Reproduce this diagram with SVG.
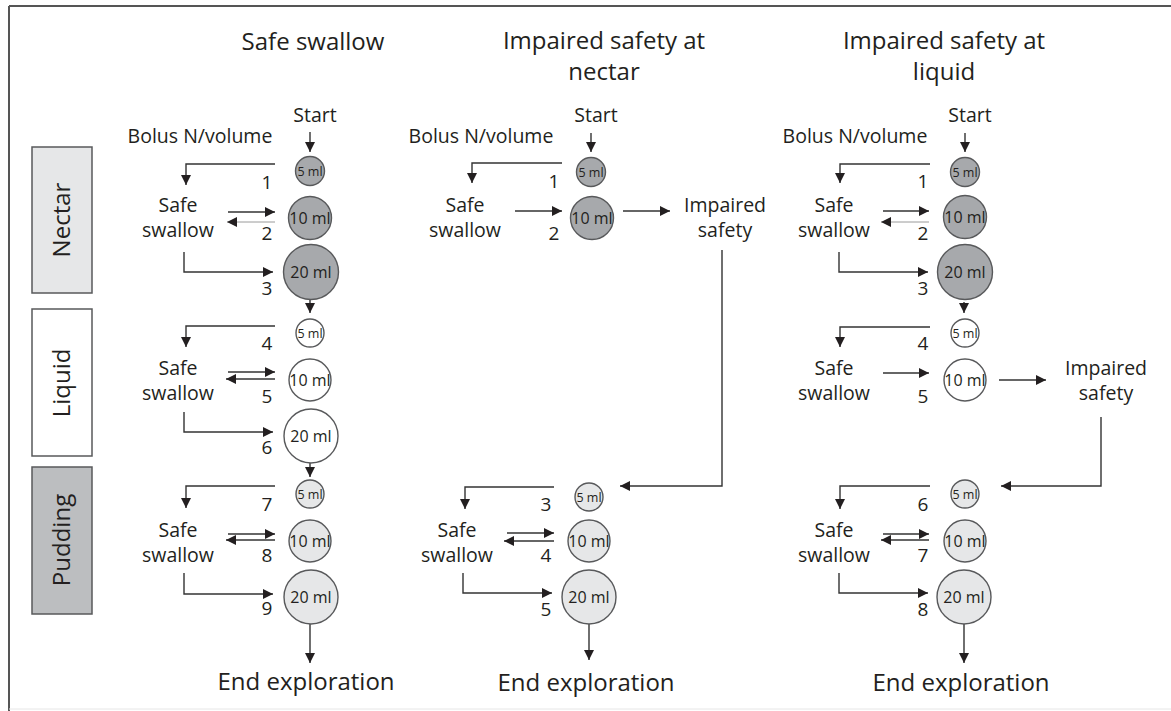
<svg xmlns="http://www.w3.org/2000/svg" width="1171" height="711" viewBox="0 0 1171 711">
<style>
text{font-family:"Open Sans","Noto Sans","Liberation Sans",sans-serif;fill:#231f20}
.t{font-size:24px;text-anchor:middle}
.m{font-size:19.5px;text-anchor:middle}
.n{font-size:19px;text-anchor:middle}
.c{font-size:16px;text-anchor:middle}
.s{font-size:12.5px;text-anchor:middle}
.side{font-size:24px;text-anchor:middle}
.cn{fill:#a7a9ac;stroke:#58595b;stroke-width:1.4}
.cl{fill:#ffffff;stroke:#58595b;stroke-width:1.4}
.cp{fill:#e6e7e8;stroke:#58595b;stroke-width:1.4}
.ln{fill:none;stroke:#333;stroke-width:1.4;marker-end:url(#ah)}
.lt{fill:none;stroke:#9a9a9a;stroke-width:1;marker-end:url(#ah)}
</style>
<defs>
<marker id="ah" viewBox="0 0 10 10" refX="10" refY="5" markerWidth="11" markerHeight="10" markerUnits="userSpaceOnUse" orient="auto">
<path d="M0,0 L10,5 L0,10 z" fill="#231f20"/>
</marker>
</defs>
<rect width="1171" height="711" fill="#ffffff"/>
<g id="frame">
<line x1="9" y1="6" x2="1171" y2="6" stroke="#555" stroke-width="2"/>
<line x1="9" y1="6" x2="9" y2="711" stroke="#555" stroke-width="2"/>
<line x1="9" y1="709" x2="1171" y2="709" stroke="#e6e6e6" stroke-width="1"/>
</g>
<g id="side-nectar"><rect x="32" y="147" width="60" height="146" fill="#e6e7e8" stroke="#58595b" stroke-width="1.5"/><text class="side" transform="translate(70,220) rotate(-90)">Nectar</text></g>
<g id="side-liquid"><rect x="32" y="309" width="60" height="147" fill="#ffffff" stroke="#58595b" stroke-width="1.5"/><text class="side" transform="translate(70,383) rotate(-90)">Liquid</text></g>
<g id="side-pudding"><rect x="32" y="467" width="60" height="147" fill="#bcbec0" stroke="#58595b" stroke-width="1.5"/><text class="side" transform="translate(70,540) rotate(-90)">Pudding</text></g>

<g id="connectors">
<line class="ln" x1="310" y1="132" x2="310" y2="152"/>
<polyline class="ln" points="275,164 186,164 186,185"/>
<line class="ln" x1="228" y1="212" x2="275" y2="212"/>
<line class="lt" x1="275" y1="222" x2="227" y2="222"/>
<polyline class="ln" points="184,252 184,272 273,272"/>
<line class="ln" x1="310" y1="300" x2="310" y2="313"/>
<polyline class="ln" points="275,326 186,326 186,347"/>
<line class="ln" x1="228" y1="372" x2="275" y2="372"/>
<line class="ln" x1="275" y1="379" x2="226" y2="379"/>
<polyline class="ln" points="184,412 184,432 273,432"/>
<line class="ln" x1="310" y1="463" x2="310" y2="477"/>
<polyline class="ln" points="275,486 186,486 186,508"/>
<line class="ln" x1="228" y1="534" x2="275" y2="534"/>
<line class="ln" x1="275" y1="540" x2="226" y2="540"/>
<polyline class="ln" points="184,573 184,594 273,594"/>
<line class="ln" x1="310" y1="624" x2="310" y2="663"/>
<line class="ln" x1="591" y1="133" x2="591" y2="152"/>
<polyline class="ln" points="562,163 472,163 472,183"/>
<line class="ln" x1="515" y1="211" x2="562" y2="211"/>
<line class="ln" x1="623" y1="211" x2="670" y2="211"/>
<polyline class="ln" points="722,250 722,486 620,486"/>
<polyline class="ln" points="554,487 465,487 465,509"/>
<line class="ln" x1="507" y1="533" x2="554" y2="533"/>
<line class="ln" x1="554" y1="541" x2="504" y2="541"/>
<polyline class="ln" points="463,573 463,593 552,593"/>
<line class="ln" x1="589" y1="624" x2="589" y2="660"/>
<line class="ln" x1="965" y1="133" x2="965" y2="152"/>
<polyline class="ln" points="930,164 840,164 840,183"/>
<line class="ln" x1="883" y1="211" x2="929" y2="211"/>
<line class="lt" x1="929" y1="222" x2="881" y2="222"/>
<polyline class="ln" points="839,252 839,272 928,272"/>
<line class="ln" x1="964" y1="302" x2="964" y2="313"/>
<polyline class="ln" points="930,327 840,327 840,347"/>
<line class="ln" x1="883" y1="373" x2="929" y2="373"/>
<line class="ln" x1="999" y1="380" x2="1046" y2="380"/>
<polyline class="ln" points="1101,417 1101,486 1001,486"/>
<polyline class="ln" points="930,486 840,486 840,509"/>
<line class="ln" x1="883" y1="534" x2="929" y2="534"/>
<line class="ln" x1="929" y1="540" x2="881" y2="540"/>
<polyline class="ln" points="839,573 839,593 928,593"/>
<line class="ln" x1="964" y1="624" x2="964" y2="663"/>
</g>

<g id="c1-title"><text class="t" x="313" y="50">Safe swallow</text></g>
<g id="c1-start"><text class="m" x="315" y="122">Start</text></g>
<g id="c1-bolus"><text class="m" x="200" y="143">Bolus N/volume</text></g>
<g id="c1-n5"><circle class="cn" cx="310" cy="171" r="14.5"/><text class="s" x="310" y="175.5">5 ml</text></g>
<g id="c1-n10"><circle class="cn" cx="310" cy="218" r="21.5"/><text class="c" x="310" y="224">10 ml</text></g>
<g id="c1-n20"><circle class="cn" cx="311" cy="272" r="27.5"/><text class="c" x="311" y="278">20 ml</text></g>
<g id="c1-l5"><circle class="cl" cx="310" cy="333" r="14"/><text class="s" x="310" y="337.5">5 ml</text></g>
<g id="c1-l10"><circle class="cl" cx="310" cy="380" r="21"/><text class="c" x="310" y="386">10 ml</text></g>
<g id="c1-l20"><circle class="cl" cx="311" cy="436" r="27"/><text class="c" x="311" y="442">20 ml</text></g>
<g id="c1-p5"><circle class="cp" cx="310" cy="494" r="14"/><text class="s" x="310" y="498.5">5 ml</text></g>
<g id="c1-p10"><circle class="cp" cx="310" cy="541" r="21"/><text class="c" x="310" y="547">10 ml</text></g>
<g id="c1-p20"><circle class="cp" cx="311" cy="597" r="27"/><text class="c" x="311" y="603">20 ml</text></g>
<g id="c1-safe-n"><text class="m" x="178" y="212">Safe</text><text class="m" x="178" y="237">swallow</text></g>
<g id="c1-safe-l"><text class="m" x="178" y="375">Safe</text><text class="m" x="178" y="400">swallow</text></g>
<g id="c1-safe-p"><text class="m" x="178" y="537">Safe</text><text class="m" x="178" y="562">swallow</text></g>
<g id="c1-nums">
<text class="n" x="267" y="189">1</text><text class="n" x="267" y="240">2</text><text class="n" x="267" y="295">3</text>
<text class="n" x="267" y="350">4</text><text class="n" x="267" y="403">5</text><text class="n" x="267" y="454">6</text>
<text class="n" x="267" y="511">7</text><text class="n" x="267" y="562">8</text><text class="n" x="267" y="615">9</text>
</g>
<g id="c1-end"><text class="t" x="306" y="690">End exploration</text></g>

<g id="c2-title"><text class="t" x="604" y="49">Impaired safety at</text><text class="t" x="604" y="80">nectar</text></g>
<g id="c2-start"><text class="m" x="596" y="122">Start</text></g>
<g id="c2-bolus"><text class="m" x="481" y="143">Bolus N/volume</text></g>
<g id="c2-n5"><circle class="cn" cx="591" cy="172" r="14.5"/><text class="s" x="591" y="176.5">5 ml</text></g>
<g id="c2-n10"><circle class="cn" cx="592" cy="218" r="21.5"/><text class="c" x="592" y="224">10 ml</text></g>
<g id="c2-safe-n"><text class="m" x="465" y="212">Safe</text><text class="m" x="465" y="237">swallow</text></g>
<g id="c2-impaired"><text class="m" x="725" y="212">Impaired</text><text class="m" x="725" y="237">safety</text></g>
<g id="c2-p5"><circle class="cp" cx="589" cy="497" r="14"/><text class="s" x="589" y="501.5">5 ml</text></g>
<g id="c2-p10"><circle class="cp" cx="589" cy="541" r="21"/><text class="c" x="589" y="547">10 ml</text></g>
<g id="c2-p20"><circle class="cp" cx="589" cy="597" r="27"/><text class="c" x="589" y="603">20 ml</text></g>
<g id="c2-safe-p"><text class="m" x="457" y="537">Safe</text><text class="m" x="457" y="562">swallow</text></g>
<g id="c2-nums">
<text class="n" x="554" y="188">1</text><text class="n" x="554" y="240">2</text>
<text class="n" x="546" y="511">3</text><text class="n" x="546" y="562">4</text><text class="n" x="546" y="616">5</text>
</g>
<g id="c2-end"><text class="t" x="586" y="691">End exploration</text></g>

<g id="c3-title"><text class="t" x="944" y="49">Impaired safety at</text><text class="t" x="944" y="80">liquid</text></g>
<g id="c3-start"><text class="m" x="970" y="122">Start</text></g>
<g id="c3-bolus"><text class="m" x="855" y="143">Bolus N/volume</text></g>
<g id="c3-n5"><circle class="cn" cx="965" cy="172" r="14.5"/><text class="s" x="965" y="176.5">5 ml</text></g>
<g id="c3-n10"><circle class="cn" cx="965" cy="217" r="21.5"/><text class="c" x="965" y="223">10 ml</text></g>
<g id="c3-n20"><circle class="cn" cx="965" cy="272" r="27.5"/><text class="c" x="965" y="278">20 ml</text></g>
<g id="c3-l5"><circle class="cl" cx="965" cy="333" r="14"/><text class="s" x="965" y="337.5">5 ml</text></g>
<g id="c3-l10"><circle class="cl" cx="965" cy="380" r="21"/><text class="c" x="965" y="386">10 ml</text></g>
<g id="c3-impaired"><text class="m" x="1106" y="375">Impaired</text><text class="m" x="1106" y="400">safety</text></g>
<g id="c3-p5"><circle class="cp" cx="965" cy="494" r="14"/><text class="s" x="965" y="498.5">5 ml</text></g>
<g id="c3-p10"><circle class="cp" cx="965" cy="541" r="21"/><text class="c" x="965" y="547">10 ml</text></g>
<g id="c3-p20"><circle class="cp" cx="964" cy="597" r="27"/><text class="c" x="964" y="603">20 ml</text></g>
<g id="c3-safe-n"><text class="m" x="834" y="212">Safe</text><text class="m" x="834" y="237">swallow</text></g>
<g id="c3-safe-l"><text class="m" x="834" y="375">Safe</text><text class="m" x="834" y="400">swallow</text></g>
<g id="c3-safe-p"><text class="m" x="834" y="537">Safe</text><text class="m" x="834" y="562">swallow</text></g>
<g id="c3-nums">
<text class="n" x="923" y="188">1</text><text class="n" x="923" y="240">2</text><text class="n" x="923" y="295">3</text>
<text class="n" x="923" y="350">4</text><text class="n" x="923" y="403">5</text>
<text class="n" x="923" y="511">6</text><text class="n" x="923" y="562">7</text><text class="n" x="923" y="616">8</text>
</g>
<g id="c3-end"><text class="t" x="961" y="691">End exploration</text></g>
</svg>
